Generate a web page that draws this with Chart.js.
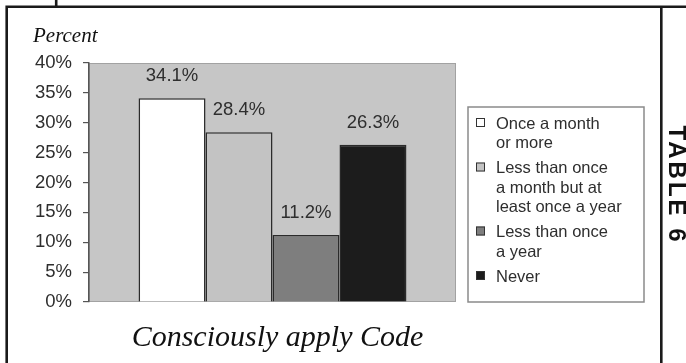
<!DOCTYPE html>
<html>
<head>
<meta charset="utf-8">
<script src="https://cdn.jsdelivr.net/npm/chart.js@4/dist/chart.umd.min.js"></script>
<style>
  html, body { margin: 0; padding: 0; background: #fff; }
  #wrap { position: relative; width: 686px; height: 363px; }
  canvas { display: block; }
</style>
</head>
<body>
<div id="wrap"><canvas id="c" width="686" height="363"></canvas></div>
<script>
// Frequency of consciously applying the Code (percent of respondents)
const categories = ['Consciously apply Code'];
const seriesNames = [
  ['Once a month', 'or more'],
  ['Less than once', 'a month but at', 'least once a year'],
  ['Less than once', 'a year'],
  ['Never']
];
const seriesValues = [34.1, 28.4, 11.2, 26.3];
const seriesColors = ['#ffffff', '#c3c3c3', '#7e7e7e', '#1c1c1c'];
const yTicks = [0, 5, 10, 15, 20, 25, 30, 35, 40];
const axisTitle = 'Percent';
const chartTitle = 'Consciously apply Code';
const tableLabel = 'TABLE 6';

const SANS = '"Liberation Sans", Arial, sans-serif';
const SERIF = '"Liberation Serif", "Times New Roman", serif';

// Page frame, gray plot panel, value labels, side legend and headings
const decorations = {
  id: 'decorations',
  beforeDraw(chart) {
    const { ctx, chartArea: a } = chart;
    ctx.save();
    ctx.fillStyle = '#c6c6c6';
    ctx.fillRect(a.left, a.top, a.right - a.left, a.bottom - a.top);
    ctx.strokeStyle = '#a2a2a2';
    ctx.lineWidth = 1;
    ctx.strokeRect(a.left + 0.5, a.top + 0.5, a.right - a.left - 1, a.bottom - a.top - 1);
    ctx.restore();
  },
  afterDatasetsDraw(chart) {
    const { ctx } = chart;
    ctx.save();
    ctx.font = '18.5px ' + SANS;
    ctx.fillStyle = '#2e2e2e';
    ctx.textAlign = 'center';
    ctx.textBaseline = 'middle';
    chart.data.datasets.forEach((ds, i) => {
      const bar = chart.getDatasetMeta(i).data[0];
      ctx.fillText(ds.data[0].toFixed(1) + '%', bar.x, bar.y - 22);
    });
    ctx.restore();
  },
  afterDraw(chart) {
    const { ctx, chartArea: a } = chart;
    ctx.save();

    // frame
    ctx.strokeStyle = '#1a1a1a';
    ctx.lineWidth = 2.6;
    ctx.beginPath();
    ctx.moveTo(6.7, 363); ctx.lineTo(6.7, 6.7); ctx.lineTo(686, 6.7);
    ctx.moveTo(661.3, 6.7); ctx.lineTo(661.3, 363);
    ctx.moveTo(56.2, 0); ctx.lineTo(56.2, 6.7);
    ctx.stroke();

    // side label
    ctx.save();
    ctx.translate(676, 185);
    ctx.rotate(Math.PI / 2);
    ctx.font = 'bold 24px ' + SANS;
    if ('letterSpacing' in ctx) ctx.letterSpacing = '3px';
    ctx.fillStyle = '#111';
    ctx.textAlign = 'center';
    ctx.textBaseline = 'middle';
    ctx.fillText(tableLabel, 0, 0);
    ctx.restore();

    // axis heading
    ctx.font = 'italic 21px ' + SERIF;
    ctx.fillStyle = '#111';
    ctx.textAlign = 'left';
    ctx.textBaseline = 'alphabetic';
    ctx.fillText(axisTitle, 33, 41.5);

    // chart heading
    ctx.font = 'italic 30px ' + SERIF;
    ctx.textAlign = 'center';
    ctx.fillText(chartTitle, (a.left + a.right) / 2 + 5, 346);

    // legend
    const lx = 468, ly = 107, lw = 176, lh = 195;
    ctx.fillStyle = '#fff';
    ctx.fillRect(lx, ly, lw, lh);
    ctx.strokeStyle = '#8a8a8a';
    ctx.lineWidth = 1.5;
    ctx.strokeRect(lx, ly, lw, lh);
    ctx.font = '16.5px ' + SANS;
    ctx.textAlign = 'left';
    ctx.textBaseline = 'alphabetic';
    const lineH = 19.5, gap = 5.5;
    let base = 128.5;
    seriesNames.forEach((lines, i) => {
      const ds = chart.data.datasets[i];
      ctx.fillStyle = ds.backgroundColor;
      ctx.fillRect(476, base - 10.5, 9, 9);
      ctx.strokeStyle = '#333';
      ctx.lineWidth = 1;
      ctx.strokeRect(476.5, base - 10, 8, 8);
      ctx.fillStyle = '#2e2e2e';
      lines.forEach((t, k) => ctx.fillText(t, 496, base + k * lineH));
      base += lines.length * lineH + gap;
    });

    ctx.restore();
  }
};

new Chart(document.getElementById('c'), {
  type: 'bar',
  data: {
    labels: categories,
    datasets: seriesNames.map((lines, i) => ({
      label: lines.join(' '),
      data: [seriesValues[i]],
      backgroundColor: seriesColors[i],
      borderColor: '#2b2b2b',
      borderWidth: 1.5,
      borderSkipped: 'bottom',
      categoryPercentage: 0.73,
      barPercentage: 1.0
    }))
  },
  options: {
    responsive: false,
    animation: false,
    layout: { padding: { left: 0, right: 230, top: 63, bottom: 61 } },
    plugins: {
      legend: { display: false },
      tooltip: { enabled: false },
      title: { display: false }
    },
    scales: {
      x: { display: false },
      y: {
        min: yTicks[0],
        max: yTicks[yTicks.length - 1],
        afterFit(scale) { scale.width = 89; },
        afterBuildTicks(scale) { scale.ticks = yTicks.map(v => ({ value: v })); },
        ticks: {
          padding: 11,
          color: '#2e2e2e',
          font: { family: SANS, size: 18.5 },
          callback: v => v + '%'
        },
        grid: {
          drawOnChartArea: false,
          drawTicks: true,
          tickLength: 6,
          color: '#555',
          lineWidth: 1.2
        },
        border: { display: true, color: '#555', width: 1.5 }
      }
    }
  },
  plugins: [decorations]
});
</script>
</body>
</html>
